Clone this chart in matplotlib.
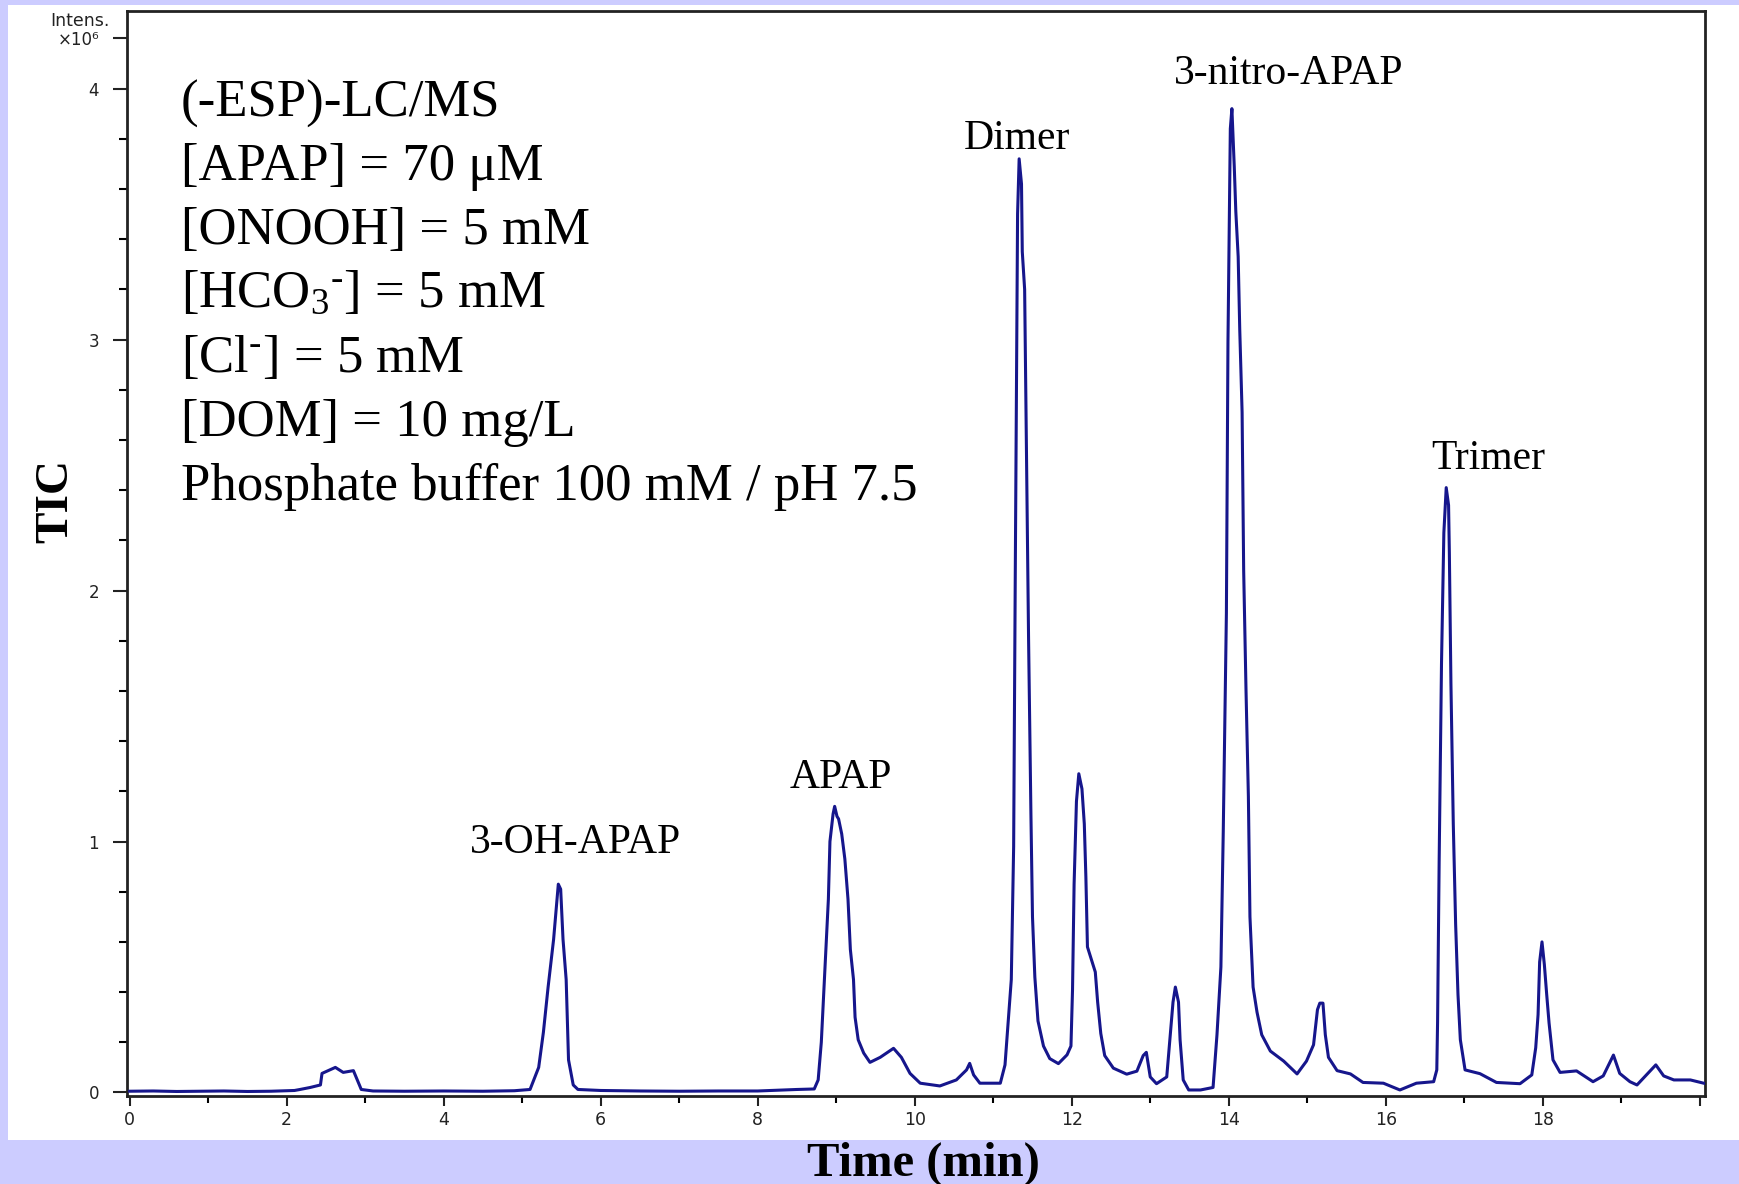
import matplotlib
matplotlib.use("Agg")
import matplotlib.pyplot as plt
from matplotlib.patches import Rectangle
import numpy as np

# TIC trace (time in min, intensity in 1e6 counts)
time_min = [
    0.0, 0.3, 0.6, 0.9, 1.2, 1.5, 1.8, 2.1, 2.17, 2.3, 2.43, 2.45, 2.55, 2.62,
    2.72, 2.85, 2.9, 2.95, 3.1, 3.5, 4.0, 4.5, 4.9, 5.10, 5.21, 5.27, 5.33,
    5.40, 5.46, 5.49, 5.52, 5.56, 5.59, 5.65, 5.71, 6.0, 6.5, 7.0, 7.5, 8.0,
    8.5, 8.72, 8.77, 8.81, 8.86, 8.90, 8.92, 8.96, 8.98, 9.01, 9.03, 9.07,
    9.11, 9.15, 9.18, 9.22, 9.24, 9.28, 9.35, 9.43, 9.56, 9.73, 9.83, 9.94,
    10.07, 10.32, 10.53, 10.66, 10.70, 10.75, 10.83, 11.09, 11.15, 11.19,
    11.23, 11.26, 11.28, 11.31, 11.33, 11.36, 11.37, 11.40, 11.42, 11.45,
    11.48, 11.50, 11.53, 11.57, 11.64, 11.72, 11.83, 11.94, 11.99, 12.01,
    12.03, 12.06, 12.09, 12.13, 12.16, 12.18, 12.20, 12.25, 12.30, 12.33,
    12.37, 12.42, 12.53, 12.70, 12.83, 12.91, 12.95, 13.00, 13.08, 13.21,
    13.25, 13.29, 13.32, 13.36, 13.38, 13.42, 13.49, 13.64, 13.80, 13.85,
    13.90, 13.93, 13.97, 13.99, 14.02, 14.04, 14.07, 14.09, 14.12, 14.14,
    14.17, 14.19, 14.22, 14.25, 14.27, 14.31, 14.36, 14.42, 14.53, 14.70,
    14.87, 14.99, 15.08, 15.13, 15.16, 15.20, 15.23, 15.27, 15.38, 15.55,
    15.71, 15.97, 16.18, 16.39, 16.61, 16.65, 16.66, 16.68, 16.71, 16.74,
    16.77, 16.80, 16.81, 16.83, 16.86, 16.89, 16.92, 16.95, 17.01, 17.20,
    17.41, 17.71, 17.86, 17.91, 17.94, 17.96, 17.99, 18.02, 18.05, 18.08,
    18.13, 18.22, 18.43, 18.64, 18.77, 18.90, 18.98, 19.11, 19.20, 19.32,
    19.44, 19.54, 19.67, 19.88, 20.05,
]
intensity = [
    0.005, 0.006, 0.004, 0.005, 0.006, 0.004, 0.005, 0.008, 0.012, 0.02, 0.03,
    0.076, 0.09, 0.10, 0.08, 0.087, 0.05, 0.012, 0.006, 0.005, 0.006, 0.005,
    0.007, 0.012, 0.10, 0.24, 0.42, 0.61, 0.83, 0.81, 0.61, 0.45, 0.13, 0.03,
    0.012, 0.008, 0.006, 0.005, 0.006, 0.006, 0.012, 0.014, 0.05, 0.20, 0.52,
    0.77, 1.0, 1.11, 1.14, 1.10, 1.09, 1.03, 0.93, 0.77, 0.57, 0.45, 0.30,
    0.21, 0.157, 0.12, 0.14, 0.176, 0.14, 0.076, 0.037, 0.026, 0.05, 0.09,
    0.116, 0.07, 0.037, 0.037, 0.11, 0.28, 0.45, 0.98, 2.03, 3.50, 3.72,
    3.62, 3.35, 3.20, 2.63, 1.81, 1.11, 0.70, 0.46, 0.285, 0.185, 0.135,
    0.115, 0.15, 0.185, 0.41, 0.83, 1.16, 1.27, 1.21, 1.07, 0.86, 0.58, 0.53,
    0.48, 0.36, 0.235, 0.147, 0.097, 0.073, 0.085, 0.147, 0.16, 0.062, 0.035,
    0.062, 0.21, 0.36, 0.42, 0.36, 0.21, 0.05, 0.01, 0.01, 0.02, 0.23, 0.50,
    1.04, 1.91, 2.99, 3.84, 3.92, 3.69, 3.51, 3.33, 3.04, 2.71, 2.08, 1.60,
    1.18, 0.70, 0.42, 0.32, 0.23, 0.165, 0.125, 0.074, 0.125, 0.19, 0.33,
    0.356, 0.356, 0.23, 0.14, 0.087, 0.074, 0.04, 0.037, 0.01, 0.037, 0.043,
    0.09, 0.28, 0.92, 1.71, 2.23, 2.41, 2.34, 2.15, 1.63, 1.07, 0.67, 0.39,
    0.21, 0.09, 0.075, 0.04, 0.035, 0.07, 0.178, 0.31, 0.52, 0.60, 0.51,
    0.39, 0.277, 0.13, 0.08, 0.086, 0.043, 0.066, 0.149, 0.076, 0.043, 0.03,
    0.07, 0.11, 0.066, 0.05, 0.05, 0.037,
]

peak_names = ["3-OH-APAP", "APAP", "Dimer", "3-nitro-APAP", "Trimer"]
peak_label_x = [5.68, 9.06, 11.30, 14.76, 17.30]
peak_label_y = [0.954, 1.213, 3.759, 4.018, 2.484]

conditions = [
    "(-ESP)-LC/MS",
    "[APAP] = 70 \u03bcM",
    "[ONOOH] = 5 mM",
    r"[HCO$_3$$^{\text{-}}$] = 5 mM",
    r"[Cl$^{\text{-}}$] = 5 mM",
    "[DOM] = 10 mg/L",
    "Phosphate buffer 100 mM / pH 7.5",
]

W, H = 1739, 1184
SERIF = "Liberation Serif"
SANS = ["DejaVu Sans"]

plt.rcParams["mathtext.fontset"] = "custom"
plt.rcParams["mathtext.rm"] = SERIF
plt.rcParams["mathtext.it"] = SERIF + ":italic"

fig = plt.figure(figsize=(W / 100, H / 100), dpi=100, facecolor="#ccccff")
panel = Rectangle((8 / W, 1 - 1140 / H), 1 - 8 / W, (1140 - 5) / H,
                  transform=fig.transFigure, facecolor="white",
                  edgecolor="none", zorder=-5)
fig.add_artist(panel)


def px(x, y):
    return x / W, 1 - y / H


ax = fig.add_axes([127 / W, 1 - 1096 / H, (1704.5 - 127) / W, (1096 - 11) / H])
ax.set_facecolor("white")
ax.plot(time_min, intensity, color="#16168c", lw=2.2, zorder=3)

ax.set_xlim(-0.034, 20.06)
ax.set_ylim(-0.014, 4.309)

ax.set_xticks(np.arange(0, 21, 2))
ax.set_xticklabels([str(v) for v in range(0, 19, 2)] + [""])
ax.set_xticks(np.arange(1, 20, 2), minor=True)
ax.set_yticks([0, 1, 2, 3, 4, 4.2])
ax.set_yticklabels(["0", "1", "2", "3", "4", "\u00d710\u2076"])
ax.set_yticks([v / 5 for v in range(21) if v % 5 != 0], minor=True)

ax.tick_params(axis="x", which="major", direction="out", length=7, width=1.5,
               pad=4, labelsize=12.5, colors="#222222")
ax.tick_params(axis="x", which="minor", direction="out", length=5, width=1.5)
ax.tick_params(axis="y", which="major", direction="out", length=10, width=1.5,
               pad=10, labelsize=12, colors="#222222")
ax.tick_params(axis="y", which="minor", direction="out", length=6, width=1.5)
for lab in ax.get_xticklabels() + ax.get_yticklabels():
    lab.set_family(SANS)

for spine in ax.spines.values():
    spine.set_color("#222222")
    spine.set_linewidth(2)

fig.text(*px(110, 21), "Intens.", ha="right", va="center", fontsize=12.5,
         family=SANS, color="#222222")

for name, x, y in zip(peak_names, peak_label_x, peak_label_y):
    ax.text(x, y, name, ha="center", va="baseline", fontsize=30,
            family=SERIF, zorder=4)

baselines = [116.6, 179.8, 244, 307, 371.6, 436, 500]
for line, yb in zip(conditions, baselines):
    fig.text(*px(181, yb), line, ha="left", va="baseline", fontsize=38,
             family=SERIF)

fig.text(*px(923, 1175.6), "Time (min)", ha="center", va="baseline",
         fontsize=35, fontweight="bold", family=SERIF)
fig.text(*px(56, 501), "TIC", ha="center", va="center", rotation=90,
         fontsize=34, fontweight="bold", family=SERIF)

fig.savefig("out.png", dpi=100, facecolor=fig.get_facecolor())
